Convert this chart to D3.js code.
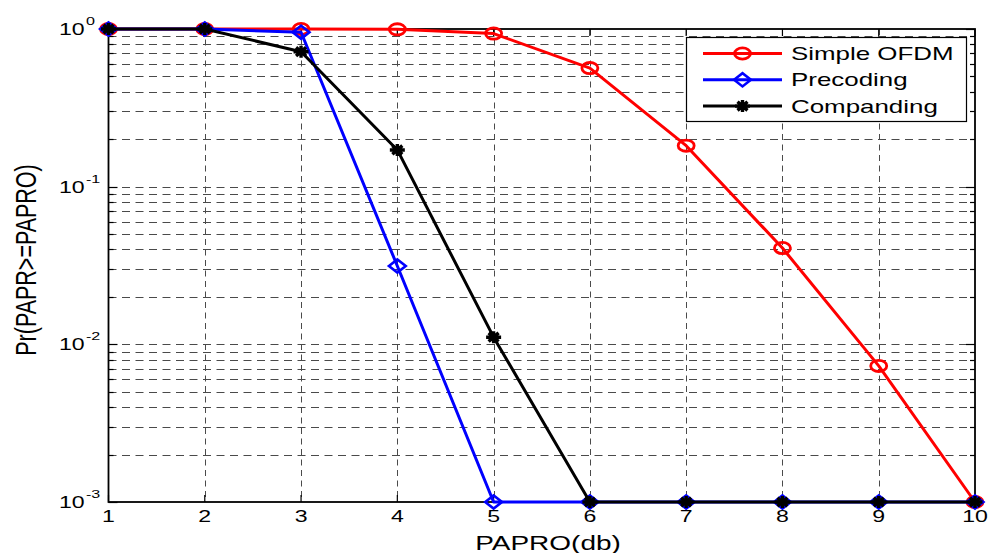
<!DOCTYPE html>
<html>
<head>
<meta charset="utf-8">
<script src="https://cdn.jsdelivr.net/npm/d3@7"></script>
<style>
  html, body { margin: 0; padding: 0; background: #fff; }
  svg text { font-family: "Liberation Sans", Arial, Helvetica, sans-serif; fill: #000; }
</style>
</head>
<body>
<svg id="chart" width="991" height="553"></svg>
<script>
// PAPR threshold (dB) on the x axis
const papro = [1, 2, 3, 4, 5, 6, 7, 8, 9, 10];
// CCDF values for each scheme
const simpleOFDM = [1, 1, 1, 0.995, 0.935, 0.565, 0.182, 0.0408, 0.0073, 0.001];
const precoding  = [1, 1, 0.953, 0.0314, 0.001, 0.001, 0.001, 0.001, 0.001, 0.001];
const companding = [1, 1, 0.718, 0.171, 0.0111, 0.001, 0.001, 0.001, 0.001, 0.001];
const seriesNames = ["Simple OFDM", "Precoding", "Companding"];
const xTickValues = [1, 2, 3, 4, 5, 6, 7, 8, 9, 10];
const yDecadeExponents = [0, -1, -2, -3];

(function draw() {
  const svg = d3.select("#chart");
  const SX = 1.4; // horizontal glyph stretch

  const pL = 108.5, pR = 975, pT = 29, pB = 502;
  const x = d3.scaleLinear().domain([1, 10]).range([pL, pR]);
  const y = d3.scaleLog().domain([1e-3, 1]).range([pB, pT]);

  // minor + major log ticks
  const minorVals = [];
  for (let e = -3; e < 0; e++) {
    for (let k = 2; k <= 9; k++) minorVals.push(k * Math.pow(10, e));
  }
  const majorVals = yDecadeExponents.map(e => Math.pow(10, e));

  const grid = svg.append("g").attr("stroke", "#4a4a4a").attr("stroke-width", 1).attr("fill", "none");
  // horizontal grid
  grid.selectAll("line.h").data(minorVals.concat([0.1, 0.01])).enter().append("line")
    .attr("x1", pL).attr("x2", pR)
    .attr("y1", d => Math.round(y(d)) + 0.5).attr("y2", d => Math.round(y(d)) + 0.5)
    .attr("stroke-dasharray", "8,5.5");
  // vertical grid
  grid.selectAll("line.v").data(xTickValues.slice(1, -1)).enter().append("line")
    .attr("x1", d => Math.round(x(d)) + 0.5).attr("x2", d => Math.round(x(d)) + 0.5)
    .attr("y1", pT).attr("y2", pB)
    .attr("stroke-dasharray", "6,4.5");

  // ticks, inward on all four sides
  const ticks = svg.append("g").attr("stroke", "#000").attr("stroke-width", 1.2);
  xTickValues.forEach(v => {
    const px = x(v);
    ticks.append("line").attr("x1", px).attr("x2", px).attr("y1", pB).attr("y2", pB - 7);
    ticks.append("line").attr("x1", px).attr("x2", px).attr("y1", pT).attr("y2", pT + 7);
  });
  minorVals.forEach(v => {
    const py = Math.round(y(v)) + 0.5;
    ticks.append("line").attr("x1", pL).attr("x2", pL + 5).attr("y1", py).attr("y2", py);
    ticks.append("line").attr("x1", pR).attr("x2", pR - 5).attr("y1", py).attr("y2", py);
  });
  majorVals.forEach(v => {
    const py = Math.round(y(v)) + 0.5;
    ticks.append("line").attr("x1", pL).attr("x2", pL + 9).attr("y1", py).attr("y2", py);
    ticks.append("line").attr("x1", pR).attr("x2", pR - 9).attr("y1", py).attr("y2", py);
  });

  // axes box
  svg.append("rect").attr("x", pL).attr("y", pT).attr("width", pR - pL).attr("height", pB - pT)
    .attr("fill", "none").attr("stroke", "#000").attr("stroke-width", 1.8);

  // x tick labels
  const xl = svg.append("g");
  xTickValues.forEach(v => {
    xl.append("text").attr("transform", `translate(${x(v)},${522}) scale(${SX},1)`)
      .attr("text-anchor", "middle").attr("font-size", 16.5).text(v);
  });

  // y tick labels 10^n
  const yl = svg.append("g");
  yDecadeExponents.forEach(e => {
    const py = y(Math.pow(10, e));
    yl.append("text").attr("transform", `translate(59,${py + 6}) scale(${SX},1)`)
      .attr("font-size", 16.5).text("10");
    yl.append("text").attr("transform", `translate(86,${py - 4}) scale(${SX},1)`)
      .attr("font-size", 11.5).text(e === 0 ? "0" : "-" + Math.abs(e));
  });

  // axis titles
  svg.append("text").attr("transform", `translate(548,550) scale(${SX},1)`)
    .attr("text-anchor", "middle").attr("font-size", 20).text("PAPRO(db)");
  svg.append("text").attr("transform", `translate(35.5,260) scale(${SX},1) rotate(-90)`)
    .attr("text-anchor", "middle").attr("font-size", 21.5).text("Pr(PAPR>=PAPRO)");

  // marker shapes
  function circleMarker(g, cx, cy, color) {
    g.append("ellipse").attr("cx", cx).attr("cy", cy).attr("rx", 8).attr("ry", 5.6)
      .attr("fill", "none").attr("stroke", color).attr("stroke-width", 2.8);
  }
  function diamondMarker(g, cx, cy, color) {
    const w = 8.4, h = 6.6;
    g.append("path").attr("d", `M${cx - w},${cy}L${cx},${cy - h}L${cx + w},${cy}L${cx},${cy + h}Z`)
      .attr("fill", "none").attr("stroke", color).attr("stroke-width", 2.6);
  }
  function starMarker(g, cx, cy, color) {
    const w = 7.5, h = 6, dw = 5, dh = 4.3;
    g.append("path").attr("d",
      `M${cx - w},${cy}L${cx + w},${cy}M${cx},${cy - h}L${cx},${cy + h}` +
      `M${cx - dw},${cy - dh}L${cx + dw},${cy + dh}M${cx - dw},${cy + dh}L${cx + dw},${cy - dh}`)
      .attr("fill", "none").attr("stroke", color).attr("stroke-width", 3.4);
  }

  const series = [
    { name: seriesNames[0], values: simpleOFDM, color: "#ff0000", marker: circleMarker },
    { name: seriesNames[1], values: precoding, color: "#0000ff", marker: diamondMarker },
    { name: seriesNames[2], values: companding, color: "#000000", marker: starMarker }
  ];

  const line = d3.line().x(d => x(d[0])).y(d => y(d[1]));
  series.forEach(s => {
    const g = svg.append("g");
    const pts = papro.map((p, i) => [p, s.values[i]]);
    g.append("path").attr("d", line(pts)).attr("fill", "none")
      .attr("stroke", s.color).attr("stroke-width", 3).attr("stroke-linejoin", "round");
    pts.forEach(p => s.marker(g, x(p[0]), y(p[1]), s.color));
  });

  // legend
  const lg = svg.append("g");
  lg.append("rect").attr("x", 686.5).attr("y", 37.5).attr("width", 280).attr("height", 84)
    .attr("fill", "#fff").attr("stroke", "#000").attr("stroke-width", 1.2);
  series.forEach((s, i) => {
    const ry = 53.5 + i * 26.3;
    lg.append("line").attr("x1", 703).attr("x2", 782).attr("y1", ry).attr("y2", ry)
      .attr("stroke", s.color).attr("stroke-width", 3);
    s.marker(lg, 742.5, ry, s.color);
    lg.append("text").attr("transform", `translate(791,${ry + 6.5}) scale(${SX},1)`)
      .attr("font-size", 18.5).text(s.name);
  });
})();
</script>
</body>
</html>
